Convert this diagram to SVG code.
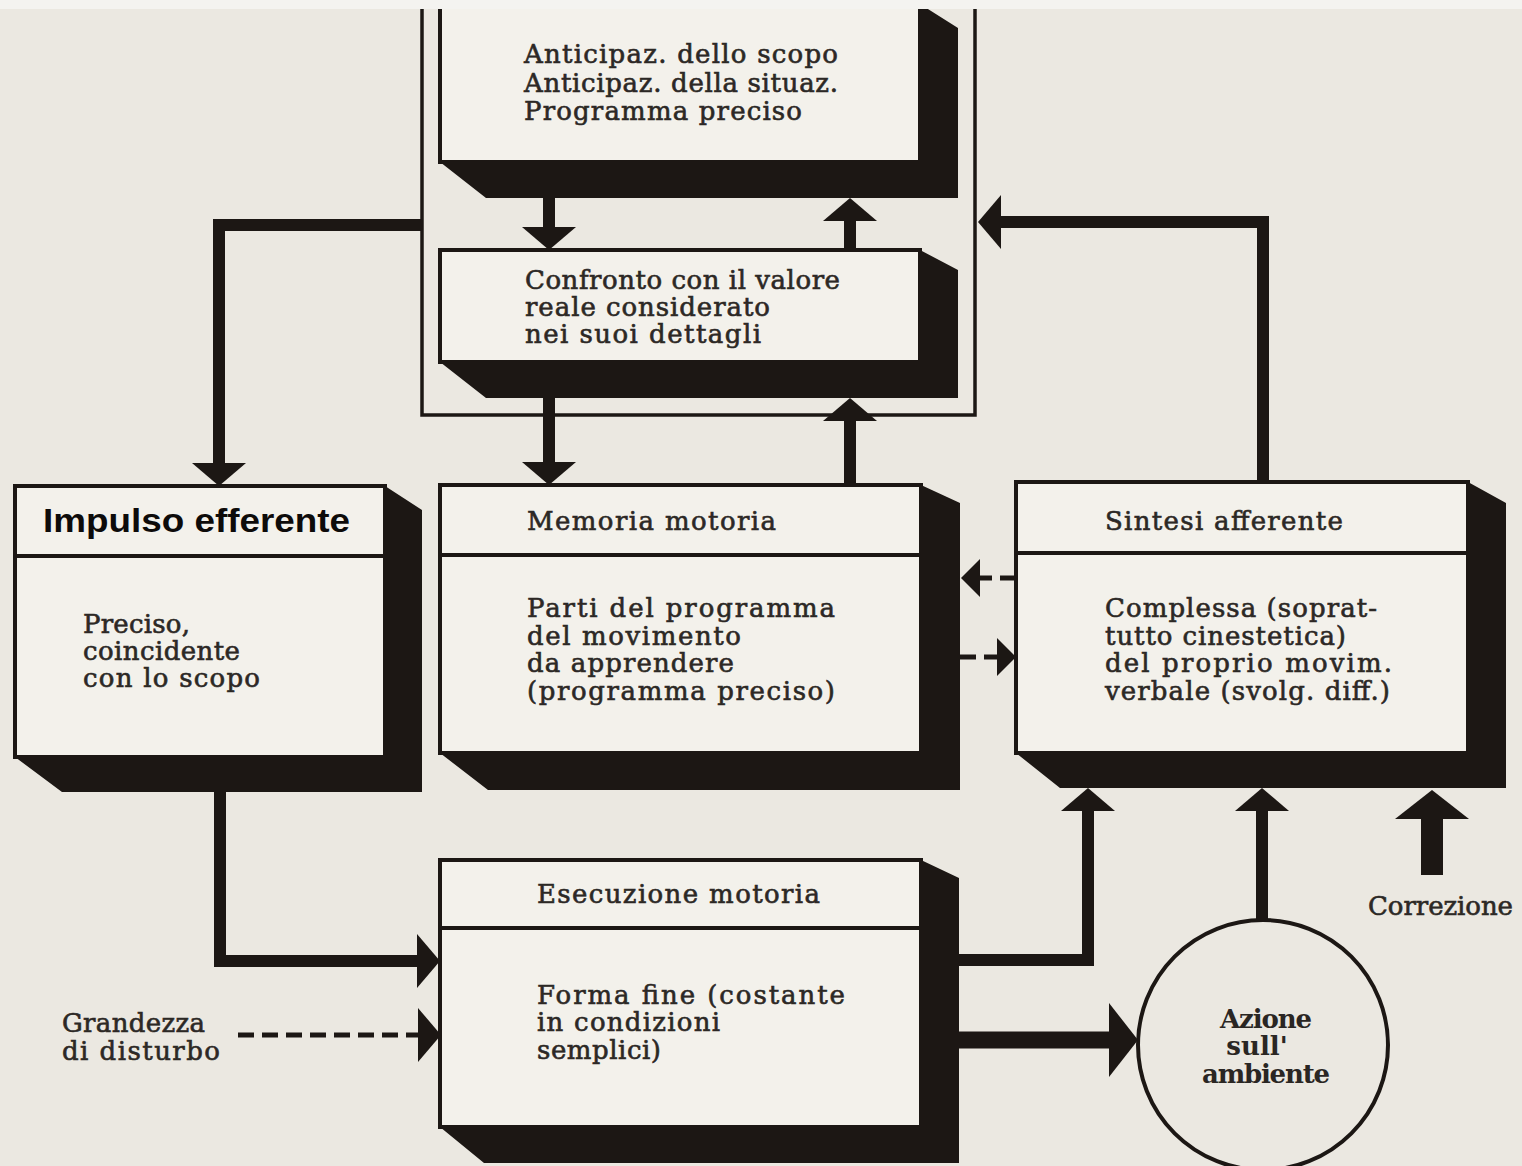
<svg xmlns="http://www.w3.org/2000/svg" width="1522" height="1166" viewBox="0 0 1522 1166">
<style>
.bg{fill:#ebe8e1}
.frame{fill:none;stroke:#1c1714;stroke-width:3.5}
.shadow{fill:#1c1714}
.box{fill:#f3f1eb;stroke:#1c1714;stroke-width:4}
.sep{stroke:#1c1714;stroke-width:4}
.t{font-family:"DejaVu Serif","Liberation Serif",serif;font-size:26px;fill:#2c2825;stroke:#2c2825;stroke-width:0.6}
.tb{font-family:"DejaVu Serif","Liberation Serif",serif;font-size:26px;font-weight:bold;fill:#2a2623}
.ts{font-family:"Liberation Sans",Arial,sans-serif;font-size:34px;font-weight:bold;fill:#0d0b0a}
.c{fill:none;stroke:#1c1714;stroke-width:12;stroke-linejoin:miter;stroke-linecap:butt}
.d{fill:none;stroke:#1c1714;stroke-width:5;stroke-dasharray:16 8}
.thick{stroke-width:17}
.thicker{stroke-width:22}
.circ{fill:none;stroke:#1c1714;stroke-width:4}
</style>
<defs>
<marker id="ah" markerUnits="userSpaceOnUse" orient="auto" refX="0" refY="0" viewBox="-1 -28 24 56" markerWidth="24" markerHeight="56"><path d="M-1,-27 L22,0 L-1,27 Z" fill="#1c1714"/></marker>
<marker id="ahs" markerUnits="userSpaceOnUse" orient="auto" refX="0" refY="0" viewBox="-1 -20 20 40" markerWidth="20" markerHeight="40"><path d="M-1,-19 L18,0 L-1,19 Z" fill="#1c1714"/></marker>
<marker id="ahb" markerUnits="userSpaceOnUse" orient="auto" refX="0" refY="0" viewBox="-1 -38 30 76" markerWidth="30" markerHeight="76"><path d="M-1,-37 L28,0 L-1,37 Z" fill="#1c1714"/></marker>
</defs>
<rect class="bg" x="0" y="0" width="1522" height="1166"/>

<g id="frame">
<path class="frame" d="M422,0 V415 H975 V0"/>
</g>

<g id="node-anticipazione">
<polygon class="shadow" points="920,4 958,28 958,198 486,198 440,162 920,162"/>
<rect class="box" x="440" y="4" width="480" height="158"/>
<text class="t" x="524" y="63" textLength="314" lengthAdjust="spacing">Anticipaz. dello scopo</text>
<text class="t" x="524" y="92" textLength="314" lengthAdjust="spacing">Anticipaz. della situaz.</text>
<text class="t" x="524" y="120" textLength="278" lengthAdjust="spacing">Programma preciso</text>
</g>

<g id="node-confronto">
<polygon class="shadow" points="920,250 958,270 958,398 486,398 440,362 920,362"/>
<rect class="box" x="440" y="250" width="480" height="112"/>
<text class="t" x="525" y="289" textLength="315" lengthAdjust="spacing">Confronto con il valore</text>
<text class="t" x="525" y="316" textLength="245" lengthAdjust="spacing">reale considerato</text>
<text class="t" x="525" y="343" textLength="236" lengthAdjust="spacing">nei suoi dettagli</text>
</g>

<g id="node-impulso">
<polygon class="shadow" points="385,486 422,510 422,792 62,792 15,757 385,757"/>
<rect class="box" x="15" y="486" width="370" height="271"/>
<line class="sep" x1="15" y1="556" x2="385" y2="556"/>
<text class="ts" x="43" y="532" textLength="307" lengthAdjust="spacingAndGlyphs">Impulso efferente</text>
<text class="t" x="83" y="633" textLength="107" lengthAdjust="spacing">Preciso,</text>
<text class="t" x="83" y="660" textLength="157" lengthAdjust="spacing">coincidente</text>
<text class="t" x="83" y="687" textLength="177" lengthAdjust="spacing">con lo scopo</text>
</g>

<g id="node-memoria">
<polygon class="shadow" points="921,485 960,503 960,790 488,790 440,753 921,753"/>
<rect class="box" x="440" y="485" width="481" height="268"/>
<line class="sep" x1="440" y1="555" x2="921" y2="555"/>
<text class="t" x="527" y="530" textLength="249" lengthAdjust="spacing">Memoria motoria</text>
<text class="t" x="527" y="617" textLength="308" lengthAdjust="spacing">Parti del programma</text>
<text class="t" x="527" y="645" textLength="214" lengthAdjust="spacing">del movimento</text>
<text class="t" x="527" y="672" textLength="207" lengthAdjust="spacing">da apprendere</text>
<text class="t" x="527" y="700" textLength="308" lengthAdjust="spacing">(programma preciso)</text>
</g>

<g id="node-sintesi">
<polygon class="shadow" points="1468,482 1506,503 1506,788 1060,788 1016,753 1468,753"/>
<rect class="box" x="1016" y="482" width="452" height="271"/>
<line class="sep" x1="1016" y1="553" x2="1468" y2="553"/>
<text class="t" x="1105" y="530" textLength="238" lengthAdjust="spacing">Sintesi afferente</text>
<text class="t" x="1105" y="617" textLength="272" lengthAdjust="spacing">Complessa (soprat-</text>
<text class="t" x="1105" y="645" textLength="241" lengthAdjust="spacing">tutto cinestetica)</text>
<text class="t" x="1105" y="672" textLength="287" lengthAdjust="spacing">del proprio movim.</text>
<text class="t" x="1105" y="700" textLength="285" lengthAdjust="spacing">verbale (svolg. diff.)</text>
</g>

<g id="node-esecuzione">
<polygon class="shadow" points="921,860 959,878 959,1163 484,1163 440,1127 921,1127"/>
<rect class="box" x="440" y="860" width="481" height="267"/>
<line class="sep" x1="440" y1="928" x2="921" y2="928"/>
<text class="t" x="537" y="903" textLength="283" lengthAdjust="spacing">Esecuzione motoria</text>
<text class="t" x="537" y="1004" textLength="308" lengthAdjust="spacing">Forma fine (costante</text>
<text class="t" x="537" y="1031" textLength="183" lengthAdjust="spacing">in condizioni</text>
<text class="t" x="537" y="1059" textLength="124" lengthAdjust="spacing">semplici)</text>
</g>

<g id="node-azione">
<circle class="circ" cx="1263" cy="1045" r="125"/>
<text class="tb" x="1266" y="1028" text-anchor="middle" textLength="92" lengthAdjust="spacing">Azione</text>
<text class="tb" x="1257" y="1055" text-anchor="middle">sull'</text>
<text class="tb" x="1266" y="1083" text-anchor="middle" textLength="128" lengthAdjust="spacing">ambiente</text>
</g>

<g id="label-grandezza">
<text class="t" x="62" y="1032" textLength="143" lengthAdjust="spacing">Grandezza</text>
<text class="t" x="62" y="1060" textLength="158" lengthAdjust="spacing">di disturbo</text>
</g>

<g id="label-correzione">
<text class="t" x="1368" y="915" textLength="145" lengthAdjust="spacing">Correzione</text>
</g>

<g id="connectors">
<path class="c" d="M422,225 H219 V464" marker-end="url(#ah)"/>
<path class="c" d="M549,198 V228" marker-end="url(#ah)"/>
<path class="c" d="M850,250 V220" marker-end="url(#ah)"/>
<path class="c" d="M549,398 V463" marker-end="url(#ah)"/>
<path class="c" d="M850,485 V420" marker-end="url(#ah)"/>
<path class="c" d="M1263,482 V222 H1000" marker-end="url(#ah)"/>
<path class="c" d="M220,792 V961 H418" marker-end="url(#ah)"/>
<path class="d" d="M238,1035 H419" marker-end="url(#ah)"/>
<path class="c" d="M959,960 H1088 V810" marker-end="url(#ah)"/>
<path class="c thick" d="M959,1040 H1110" marker-end="url(#ahb)"/>
<path class="c" d="M1262,920 V810" marker-end="url(#ah)"/>
<path class="c thicker" d="M1432,875 V818" marker-end="url(#ahb)"/>
<path class="d" d="M1016,578 H979" marker-end="url(#ahs)"/>
<path class="d" d="M960,657 H998" marker-end="url(#ahs)"/>
</g>

<rect x="0" y="0" width="1522" height="9" fill="#f4f3f0"/>
</svg>
